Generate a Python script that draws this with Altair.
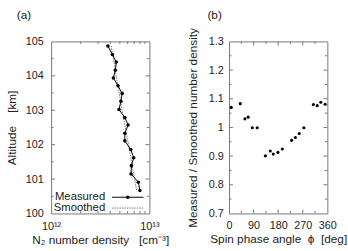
import altair as alt
import pandas as pd

FONT = "Liberation Sans"
INK = "#222222"
FRAME = "#777777"

# Panel (a): altitude profile of the N2 number density
altitude = [104.87, 104.62, 104.40, 104.16, 103.94, 103.71, 103.49, 103.26, 103.02,
            102.79, 102.57, 102.33, 102.11, 101.86, 101.62, 101.39, 101.15, 100.91, 100.67]
measured = [3.78e12, 4.20e12, 4.60e12, 4.50e12, 4.30e12, 4.79e12, 5.28e12, 5.13e12, 4.90e12,
            5.62e12, 6.07e12, 5.62e12, 5.62e12, 6.46e12, 6.92e12, 6.56e12, 6.50e12, 7.71e12, 8.00e12]
smoothed = [4.07e12, 4.22e12, 4.37e12, 4.50e12, 4.62e12, 4.79e12, 4.93e12, 5.09e12, 5.25e12,
            5.43e12, 5.62e12, 5.82e12, 6.03e12, 6.24e12, 6.46e12, 6.68e12, 6.92e12, 7.16e12, 7.41e12]

# Panel (b): measured / smoothed ratio against spin phase
phase = [8, 41, 58, 70, 85, 103, 133, 151, 162, 179, 195, 229, 243, 257, 274, 309, 323, 336, 352]
ratio = [1.070, 1.083, 1.030, 1.036, 0.999, 0.999, 0.901, 0.918, 0.907, 0.913, 0.925,
         0.955, 0.965, 0.979, 0.999, 1.080, 1.076, 1.088, 1.081]

# Tick positions
a_x_labels = [1e12, 1e13]
a_x_minor = [2e12, 3e12, 4e12, 5e12, 6e12, 7e12, 8e12, 9e12]
a_y_labels = [100, 101, 102, 103, 104, 105]
a_y_major = [101, 102, 103, 104]
a_y_minor = [100.5, 101.5, 102.5, 103.5, 104.5]
b_x_labels = [0, 90, 180, 270, 360]
b_x_major = [90, 180, 270]
b_x_minor = [45, 135, 225, 315]
b_y_labels = [0.7, 0.8, 0.9, 1.0, 1.1, 1.2, 1.3]
b_y_major = [0.8, 0.9, 1.0, 1.1, 1.2]
b_y_minor = [0.75, 0.85, 0.95, 1.05, 1.15, 1.25]

W, H = 100, 175
MAJ, MIN = 4, 2.5

prof = pd.DataFrame({"i": range(len(altitude)), "alt": altitude,
                     "n": measured, "s": smoothed})
spin = pd.DataFrame({"phi": phase, "ratio": ratio})

common_axis = dict(ticks=False, tickSize=0, domain=False, grid=False,
                   labelFlush=False, labelOverlap=False,
                   labelFont=FONT, labelFontSize=11, labelColor=INK,
                   titleFont=FONT, titleFontSize=12, titleFontWeight="normal",
                   titleColor=INK)

ax_a_x = alt.Axis(values=a_x_labels, title="N\u2082 number density\u00a0\u00a0\u00a0[cm\u207b\u00b3]",
                  labelExpr="datum.value < 5e12 ? '10\u00b9\u00b2' : '10\u00b9\u00b3'",
                  labelPadding=7, titlePadding=4, **common_axis)
ax_a_y = alt.Axis(values=a_y_labels,
                  title="Altitude\u00a0\u00a0\u00a0\u00a0[km]",
                  labelPadding=8, titlePadding=7, **common_axis)
ax_b_x = alt.Axis(values=b_x_labels, title="Spin phase angle\u00a0\u00a0\u03d5\u00a0\u00a0[deg]",
                  labelPadding=6, titlePadding=4, **common_axis)
ax_b_y = alt.Axis(values=b_y_labels, format="~g",
                  title="Measured / Smoothed number density",
                  labelPadding=6, titlePadding=9, **common_axis)

sc_a_x = alt.Scale(type="log", domain=[1e12, 1e13])
sc_a_y = alt.Scale(domain=[100, 105])
sc_b_x = alt.Scale(domain=[0, 360])
sc_b_y = alt.Scale(domain=[0.7, 1.3])


def xa(f="n"):
    return alt.X(f"{f}:Q", scale=sc_a_x, axis=ax_a_x)


def ya(f="alt"):
    return alt.Y(f"{f}:Q", scale=sc_a_y, axis=ax_a_y)


def xb(f="phi"):
    return alt.X(f"{f}:Q", scale=sc_b_x, axis=ax_b_x)


def yb(f="ratio"):
    return alt.Y(f"{f}:Q", scale=sc_b_y, axis=ax_b_y)


def xticks(values, field, xenc, length):
    df = pd.DataFrame({field: values})
    base = alt.Chart(df).mark_rule(color=FRAME, strokeWidth=1)
    bottom = base.encode(x=xenc(field), y=alt.value(H), y2=alt.value(H - length))
    top = base.encode(x=xenc(field), y=alt.value(0), y2=alt.value(length))
    return [bottom, top]


def yticks(values, field, yenc, length):
    df = pd.DataFrame({field: values})
    base = alt.Chart(df).mark_rule(color=FRAME, strokeWidth=1)
    left = base.encode(y=yenc(field), x=alt.value(0), x2=alt.value(length))
    right = base.encode(y=yenc(field), x=alt.value(W - length), x2=alt.value(W))
    return [left, right]


one = pd.DataFrame({"k": [0]})


def panel_label(text, dx):
    return alt.Chart(one).mark_text(align="left", baseline="middle", font=FONT,
                                    fontSize=12, color=INK).encode(
        x=alt.value(dx), y=alt.value(-27), text=alt.value(text))


smooth_line = alt.Chart(prof).mark_line(color="#555555", strokeWidth=0.8,
                                        strokeDash=[1.5, 1]).encode(
    x=alt.X("s:Q", scale=sc_a_x, axis=ax_a_x), y=ya(), order="i:Q")
meas_line = alt.Chart(prof).mark_line(color="black", strokeWidth=1).encode(
    x=xa(), y=ya(), order="i:Q")
meas_pts = alt.Chart(prof).mark_circle(color="black", size=13, opacity=1).encode(
    x=xa(), y=ya())

# in-plot key
key_y1, key_y2 = 158.5, 169.5
key = [
    alt.Chart(one).mark_text(align="right", baseline="middle", font=FONT,
                             fontSize=11.5, color=INK).encode(
        x=alt.value(55), y=alt.value(key_y1), text=alt.value("Measured")),
    alt.Chart(one).mark_text(align="right", baseline="middle", font=FONT,
                             fontSize=11.5, color=INK).encode(
        x=alt.value(55), y=alt.value(key_y2), text=alt.value("Smoothed")),
    alt.Chart(one).mark_rule(color="black", strokeWidth=1).encode(
        x=alt.value(62), x2=alt.value(94), y=alt.value(key_y1)),
    alt.Chart(one).mark_circle(color="black", size=13, opacity=1).encode(
        x=alt.value(78), y=alt.value(key_y1)),
    alt.Chart(one).mark_rule(color="#555555", strokeWidth=0.8, strokeDash=[1.5, 1]).encode(
        x=alt.value(62), x2=alt.value(94), y=alt.value(key_y2)),
]

panel_a = alt.layer(
    smooth_line, meas_line, meas_pts,
    *xticks(a_x_minor, "n", xa, MIN),
    *yticks(a_y_major, "alt", ya, MAJ),
    *yticks(a_y_minor, "alt", ya, MIN),
    *key,
    panel_label("(a)", -35),
).properties(width=W, height=H)

spin_pts = alt.Chart(spin).mark_circle(color="black", size=10, opacity=1).encode(
    x=xb(), y=yb())

panel_b = alt.layer(
    spin_pts,
    *xticks(b_x_major, "phi", xb, MAJ),
    *xticks(b_x_minor, "phi", xb, MIN),
    *yticks(b_y_major, "ratio", yb, MAJ),
    *yticks(b_y_minor, "ratio", yb, MIN),
    panel_label("(b)", -22),
).properties(width=W, height=H)

chart = alt.hconcat(panel_a, panel_b, spacing=16).properties(
    padding={"left": 5, "top": 6, "right": 0, "bottom": 0},
    background="white",
).configure_view(stroke=FRAME, strokeWidth=1)

chart.save("out.html", embed_options={"renderer": "svg", "actions": False})
